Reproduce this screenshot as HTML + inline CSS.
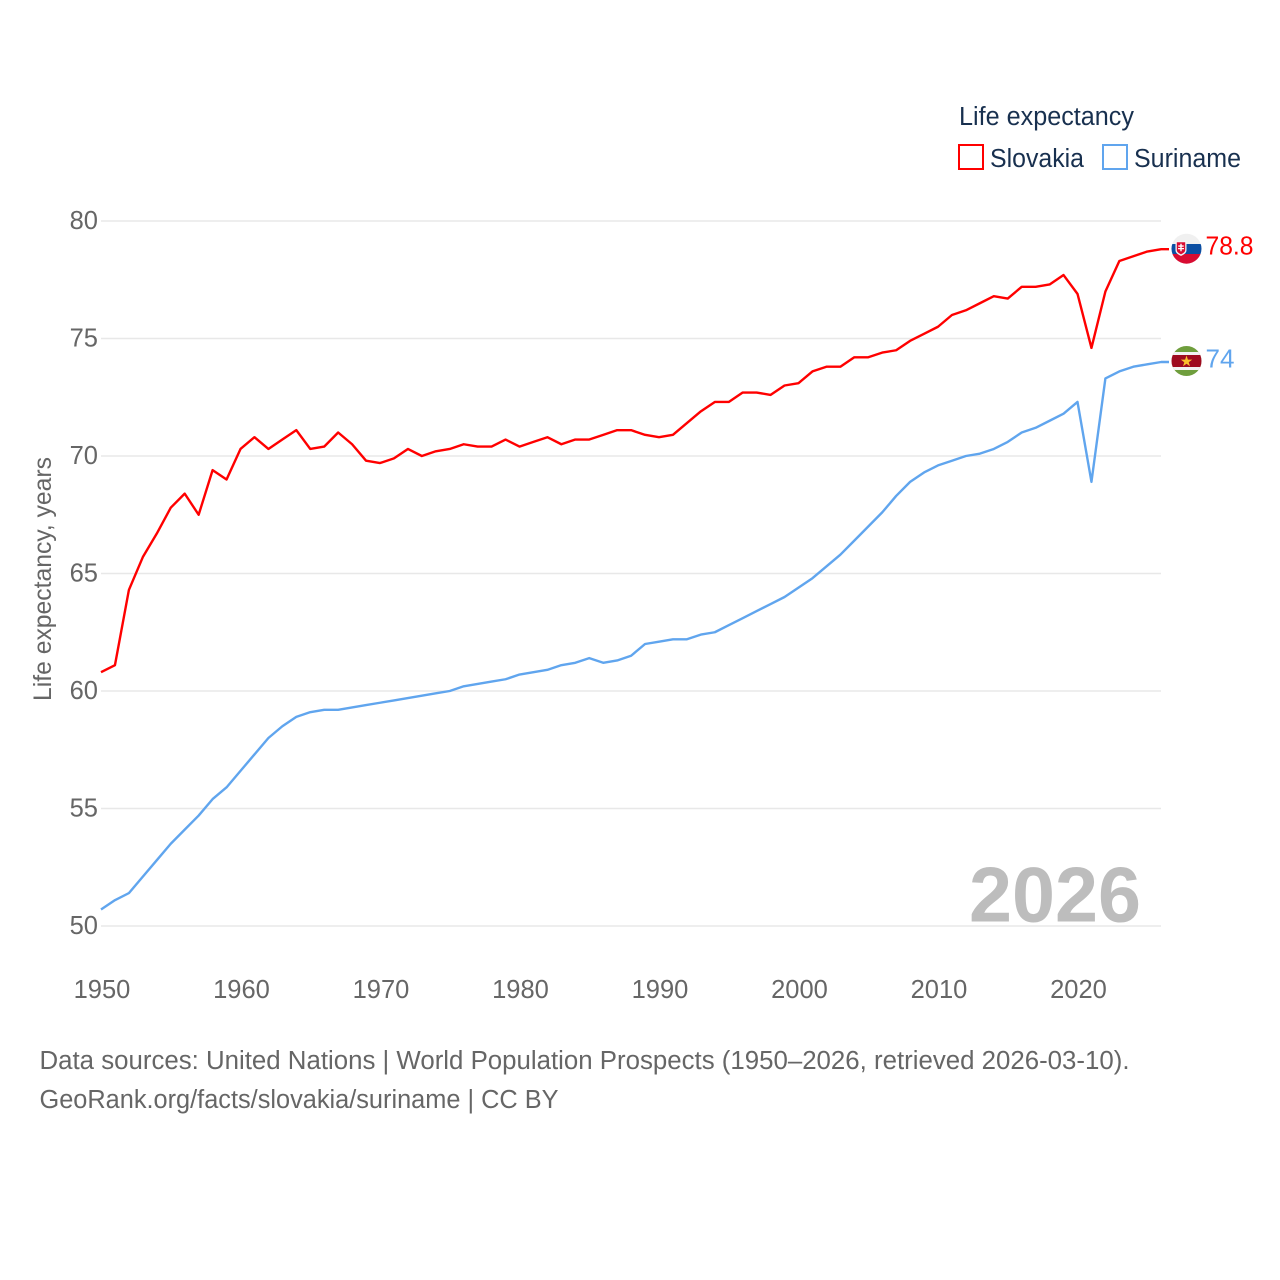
<!DOCTYPE html>
<html lang="en">
<head>
<meta charset="utf-8">
<title>Life expectancy: Slovakia and Suriname</title>
<style>
html,body{margin:0;padding:0;background:#fff;}
svg{display:block;font-family:"Liberation Sans",sans-serif;}
</style>
</head>
<body>
<svg id="chart" xmlns="http://www.w3.org/2000/svg" width="1280" height="1280" viewBox="0 0 1280 1280">
  <defs>
    <clipPath id="clip-sk"><circle cx="1186.5" cy="248.7" r="15"/></clipPath>
    <clipPath id="clip-sr"><circle cx="1186.5" cy="361" r="15"/></clipPath>
  </defs>
  <rect width="1280" height="1280" fill="#fff"/>
  <g id="grid"></g>
  <g id="yticks"></g>
  <g id="xticks"></g>
  <text transform="translate(51,701) rotate(-90)" font-size="25" fill="#666" textLength="244" lengthAdjust="spacingAndGlyphs">Life expectancy, years</text>
  <text x="969" y="921.5" font-size="78" font-weight="700" fill="#bdbdbd" textLength="172" lengthAdjust="spacingAndGlyphs">2026</text>
  <g id="series"></g>

  <g>
    <text x="959" y="125" font-size="25.5" fill="#18304f" textLength="175" lengthAdjust="spacingAndGlyphs">Life expectancy</text>
    <rect x="959" y="145" width="24" height="24" fill="none" stroke="#ff0000" stroke-width="2"/>
    <text x="990" y="167" font-size="25.5" fill="#18304f" textLength="94" lengthAdjust="spacingAndGlyphs">Slovakia</text>
    <rect x="1103" y="145" width="24" height="24" fill="none" stroke="#60a5ee" stroke-width="2"/>
    <text x="1134" y="167" font-size="25.5" fill="#18304f" textLength="107" lengthAdjust="spacingAndGlyphs">Suriname</text>
  </g>

  <g clip-path="url(#clip-sk)">
    <rect x="1170" y="232" width="34" height="12" fill="#f0f0f0"/>
    <rect x="1170" y="244" width="34" height="10" fill="#0b4ea2"/>
    <rect x="1170" y="254" width="34" height="12" fill="#d80c32"/>
    <path d="M1175.5 241h11v9c0 3-2.5 4.5-5.5 6c-3-1.5-5.5-3-5.5-6z" fill="#f4f4f4"/>
    <path d="M1176.8 242.3h8.4v7.6c0 2.2-2 3.3-4.2 4.5c-2.2-1.2-4.2-2.3-4.2-4.5z" fill="#d80c32"/>
    <path d="M1180.3 243.8h1.4v1.6h2v1.3h-2v1.3h2.3v1.3h-2.3v2h-1.4v-2h-2.3v-1.3h2.3v-1.3h-2v-1.3h2z" fill="#fff"/>
  </g>
  <g clip-path="url(#clip-sr)">
    <rect x="1170" y="345" width="34" height="32" fill="#6f9e3d"/>
    <rect x="1170" y="352" width="34" height="18" fill="#f2f2f2"/>
    <rect x="1170" y="355" width="34" height="12" fill="#9e0b1f"/>
    <polygon points="1186.5,355.5 1187.9,359.6 1192.2,359.6 1188.7,362.2 1190,366.3 1186.5,363.8 1183,366.3 1184.3,362.2 1180.8,359.6 1185.1,359.6" fill="#fbc02d"/>
  </g>
  <text id="label-sk" x="1205.5" y="254.5" font-size="25.5" fill="#ff0000" textLength="48" lengthAdjust="spacingAndGlyphs">78.8</text>
  <text id="label-sr" x="1205.5" y="367.5" font-size="25.5" fill="#60a5ee" textLength="29" lengthAdjust="spacingAndGlyphs">74</text>

  <text x="39.5" y="1069" font-size="25.5" fill="#666" textLength="1090" lengthAdjust="spacingAndGlyphs">Data sources: United Nations | World Population Prospects (1950–2026, retrieved 2026-03-10).</text>
  <text x="39.5" y="1108" font-size="25.5" fill="#666" textLength="519" lengthAdjust="spacingAndGlyphs">GeoRank.org/facts/slovakia/suriname | CC BY</text>
</svg>
<script>
const startYear = 1950;
const yTickValues = [50, 55, 60, 65, 70, 75, 80];
const xTickValues = [1950, 1960, 1970, 1980, 1990, 2000, 2010, 2020];
const slovakia = [60.8,61.1,64.3,65.7,66.7,67.8,68.4,67.5,69.4,69.0,
  70.3,70.8,70.3,70.7,71.1,70.3,70.4,71.0,70.5,69.8,
  69.7,69.9,70.3,70.0,70.2,70.3,70.5,70.4,70.4,70.7,
  70.4,70.6,70.8,70.5,70.7,70.7,70.9,71.1,71.1,70.9,
  70.8,70.9,71.4,71.9,72.3,72.3,72.7,72.7,72.6,73.0,
  73.1,73.6,73.8,73.8,74.2,74.2,74.4,74.5,74.9,75.2,
  75.5,76.0,76.2,76.5,76.8,76.7,77.2,77.2,77.3,77.7,
  76.9,74.6,77.0,78.3,78.5,78.7,78.8];
const suriname = [50.7,51.1,51.4,52.1,52.8,53.5,54.1,54.7,55.4,55.9,
  56.6,57.3,58.0,58.5,58.9,59.1,59.2,59.2,59.3,59.4,
  59.5,59.6,59.7,59.8,59.9,60.0,60.2,60.3,60.4,60.5,
  60.7,60.8,60.9,61.1,61.2,61.4,61.2,61.3,61.5,62.0,
  62.1,62.2,62.2,62.4,62.5,62.8,63.1,63.4,63.7,64.0,
  64.4,64.8,65.3,65.8,66.4,67.0,67.6,68.3,68.9,69.3,
  69.6,69.8,70.0,70.1,70.3,70.6,71.0,71.2,71.5,71.8,
  72.3,68.9,73.3,73.6,73.8,73.9,74.0];

const NS = 'http://www.w3.org/2000/svg';
const xScale = year => 101 + (year - 1950) * 13.95;
const yScale = value => 926 - (value - 50) * 23.5;
const GRID_END = 1161;
const CONNECTOR_END = 1169;

function make(tag, parentId) {
  const el = document.createElementNS(NS, tag);
  document.getElementById(parentId).appendChild(el);
  return el;
}

yTickValues.forEach(function (v) {
  const line = make('line', 'grid');
  
  
  line.setAttribute('x1', xScale(1950));
  line.setAttribute('x2', GRID_END);
  line.setAttribute('y1', yScale(v));
  line.setAttribute('y2', yScale(v));
  line.setAttribute('stroke', '#e8e8e8');
  line.setAttribute('stroke-width', '1.5');
  const label = make('text', 'yticks');
  
  
  label.setAttribute('x', 98);
  label.setAttribute('y', yScale(v) + 8);
  label.setAttribute('text-anchor', 'end');
  label.setAttribute('font-size', '25.5');
  label.setAttribute('fill', '#666');
  label.textContent = String(v);
});

xTickValues.forEach(function (year) {
  const label = make('text', 'xticks');
  
  
  label.setAttribute('x', xScale(year) + 1);
  label.setAttribute('y', 998);
  label.setAttribute('text-anchor', 'middle');
  label.setAttribute('font-size', '25.5');
  label.setAttribute('fill', '#666');
  label.textContent = String(year);
});

function drawLine(values, color, name) {
  const path = make('path', 'series');
  const pts = values.map(function (v, i) {
    return xScale(startYear + i).toFixed(2) + ' ' + yScale(v).toFixed(2);
  });
  const lastY = yScale(values[values.length - 1]).toFixed(2);
  
  
  path.setAttribute('d', 'M' + pts.join('L') + 'L' + CONNECTOR_END + ' ' + lastY);
  path.setAttribute('fill', 'none');
  path.setAttribute('stroke', color);
  path.setAttribute('stroke-width', '2.4');
  path.setAttribute('stroke-linejoin', 'round');
}
drawLine(suriname, '#60a5ee', 'line-suriname');
drawLine(slovakia, '#ff0000', 'line-slovakia');
</script>
</body>
</html>
